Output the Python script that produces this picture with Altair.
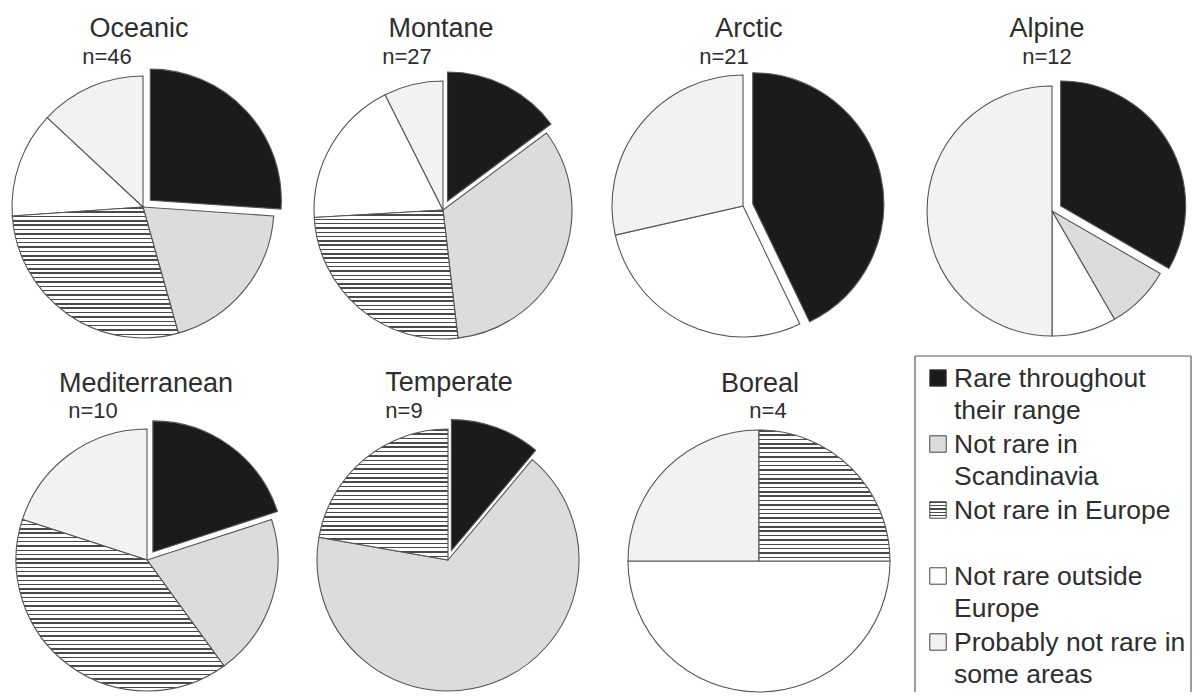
import math
import altair as alt
import pandas as pd

# ---------------- data ----------------
regions = ["Oceanic", "Montane", "Arctic", "Alpine", "Mediterranean", "Temperate", "Boreal"]
n_species = [46, 27, 21, 12, 10, 9, 4]
rare_throughout = [12, 4, 9, 4, 2, 1, 0]
not_rare_scandinavia = [9, 9, 0, 1, 2, 6, 0]
not_rare_europe = [13, 7, 0, 0, 4, 2, 1]
not_rare_outside = [6, 5, 6, 1, 0, 0, 2]
probably_not_rare = [6, 2, 6, 6, 2, 0, 1]

categories = [
    "Rare throughout their range",
    "Not rare in Scandinavia",
    "Not rare in Europe",
    "Not rare outside Europe",
    "Probably not rare in some areas",
]
legend_labels = [
    "Rare throughout\ntheir range",
    "Not rare in\nScandinavia",
    "Not rare in Europe",
    "Not rare outside\nEurope",
    "Probably not rare in\nsome areas",
]

# ---------------- styles ----------------
FONT = "Liberation Sans"
TEXT_COLOR = "#2e2e2e"
EDGE = "#555555"
RARE_FILL = "#1b1b1b"
fill_scale = alt.Scale(
    domain=categories,
    range=["#1b1b1b", "#dcdcdc", "#ffffff", "#ffffff", "#f2f2f2"],
)
frac_scale = alt.Scale(domain=[0, 1], range=[0, 2 * math.pi])
EXPLODE = 10


def stripe_fill(height_px, period=4.3, line=1.5, dark="#4a4a4a"):
    n = max(1, int(round(height_px / period)))
    stops = []
    for k in range(n):
        a = k / n
        b = (k + line / period) / n
        c = (k + 1) / n
        stops += [
            alt.GradientStop(offset=a, color=dark),
            alt.GradientStop(offset=b, color=dark),
            alt.GradientStop(offset=b, color="#ffffff"),
            alt.GradientStop(offset=c, color="#ffffff"),
        ]
    return alt.LinearGradient(gradient="linear", stops=stops, x1=0, x2=0, y1=0, y2=1)


def slice_height(f0, f1, r):
    a0, a1 = 2 * math.pi * f0, 2 * math.pi * f1
    ys = [0.0, -r * math.cos(a0), -r * math.cos(a1)]
    if a0 <= 0 <= a1:
        ys.append(-r)
    if a0 <= math.pi <= a1:
        ys.append(r)
    return max(ys) - min(ys)


# layout of each panel (panel coordinates): width, height, centre, radius, text anchors
layout = [
    dict(w=296, h=346, cx=135, cy=199, r=131, tx=131, ty=29, nx=99, ny=56),
    dict(w=296, h=346, cx=139, cy=202, r=129, tx=137, ty=29, nx=103, ny=56),
    dict(w=296, h=346, cx=143, cy=198, r=131, tx=149, ty=29, nx=124, ny=56),
    dict(w=296, h=346, cx=156, cy=203, r=125, tx=151, ty=29, nx=151, ny=56),
    dict(w=296, h=338, cx=139, cy=206, r=131, tx=138, ty=38, nx=85, ny=64),
    dict(w=296, h=338, cx=144, cy=206, r=131, tx=145, ty=37, nx=100, ny=64),
    dict(w=296, h=338, cx=159, cy=207, r=131, tx=160, ty=38, nx=168, ny=64),
]


def pie_panel(i):
    L = layout[i]
    n = n_species[i]
    vals = [rare_throughout[i], not_rare_scandinavia[i], not_rare_europe[i],
            not_rare_outside[i], probably_not_rare[i]]
    rows = []
    cum = 0
    for cat, v in zip(categories, vals):
        if v > 0:
            rows.append(dict(category=cat, count=v, f0=cum / n, f1=(cum + v) / n))
        cum += v
    df = pd.DataFrame(rows)

    theta = alt.Theta("f0:Q", scale=frac_scale, stack=None)
    theta2 = alt.Theta2("f1:Q")
    pos = dict(x=alt.value(L["cx"]), y=alt.value(L["cy"]))

    layers = []
    base_df = df[~df["category"].isin([categories[0], categories[2]])]
    if len(base_df):
        layers.append(
            alt.Chart(base_df).mark_arc(outerRadius=L["r"], stroke=EDGE, strokeWidth=1.1)
            .encode(theta=theta, theta2=theta2,
                    fill=alt.Fill("category:N", scale=fill_scale, legend=None), **pos)
        )
    eu = df[df["category"] == categories[2]]
    if len(eu):
        h = slice_height(eu["f0"].iloc[0], eu["f1"].iloc[0], L["r"])
        layers.append(
            alt.Chart(eu).mark_arc(outerRadius=L["r"], stroke=EDGE, strokeWidth=1.1,
                                   fill=stripe_fill(h))
            .encode(theta=theta, theta2=theta2, **pos)
        )
    rr = df[df["category"] == categories[0]]
    if len(rr):
        mid = math.pi * (rr["f0"].iloc[0] + rr["f1"].iloc[0])
        dx = EXPLODE * math.sin(mid)
        dy = -EXPLODE * math.cos(mid)
        layers.append(
            alt.Chart(rr).mark_arc(outerRadius=L["r"], stroke=EDGE, strokeWidth=1.1,
                                   fill=RARE_FILL, xOffset=dx, yOffset=dy)
            .encode(theta=theta, theta2=theta2, **pos)
        )
    title_df = pd.DataFrame({"t": [regions[i]]})
    layers.append(
        alt.Chart(title_df).mark_text(font=FONT, fontSize=27, color=TEXT_COLOR,
                                      align="center", baseline="alphabetic")
        .encode(text="t:N", x=alt.value(L["tx"]), y=alt.value(L["ty"]))
    )
    n_df = pd.DataFrame({"t": [f"n={n}"]})
    layers.append(
        alt.Chart(n_df).mark_text(font=FONT, fontSize=22, color=TEXT_COLOR,
                                  align="center", baseline="alphabetic")
        .encode(text="t:N", x=alt.value(L["nx"]), y=alt.value(L["ny"]))
    )
    return alt.layer(*layers).properties(width=L["w"], height=L["h"])


panels = [pie_panel(i) for i in range(len(regions))]

# ---------------- legend panel ----------------
leg_df = pd.DataFrame({"category": categories, "label": legend_labels})
ypos = alt.Y("category:N", sort=categories, axis=None,
             scale=alt.Scale(type="point", range=[33, 297], padding=0))

one = pd.DataFrame({"a": [0]})
BOX = dict(stroke="#5a5a5a", strokeWidth=1.2)
box_left = alt.Chart(one).mark_rule(**BOX).encode(
    x=alt.value(19), y=alt.value(2), y2=alt.value(338))
box_right = alt.Chart(one).mark_rule(**BOX).encode(
    x=alt.value(295), y=alt.value(2), y2=alt.value(338))
box_top = alt.Chart(one).mark_rule(**BOX).encode(
    x=alt.value(19), x2=alt.value(295), y=alt.value(2))

SQ = dict(size=270, stroke="#444444", strokeWidth=1, opacity=1, yOffset=-9)
squares = alt.Chart(leg_df[leg_df["category"] != categories[2]]).mark_square(**SQ).encode(
    x=alt.value(42), y=ypos,
    fill=alt.Fill("category:N", scale=fill_scale, legend=None))

stripe_square = alt.Chart(leg_df[leg_df["category"] == categories[2]]).mark_square(
    fill=stripe_fill(16, period=3.2, line=1.3), **SQ
).encode(x=alt.value(42), y=ypos)

labels = alt.Chart(leg_df).mark_text(
    font=FONT, fontSize=26.5, color=TEXT_COLOR, align="left", baseline="alphabetic",
    lineBreak="\n", lineHeight=32
).encode(x=alt.value(58), y=ypos, text="label:N")

legend_panel = alt.layer(box_left, box_right, box_top, squares, stripe_square, labels
                         ).properties(width=296, height=338)

row1 = alt.hconcat(*panels[0:4], spacing=0, bounds="flush")
row2 = alt.hconcat(*panels[4:7], legend_panel, spacing=0, bounds="flush")
chart = (
    alt.vconcat(row1, row2, spacing=0)
    .properties(padding=0, background="white")
    .configure_view(strokeWidth=0)
)

chart.save("out.html", embed_options={"renderer": "svg", "actions": False})
